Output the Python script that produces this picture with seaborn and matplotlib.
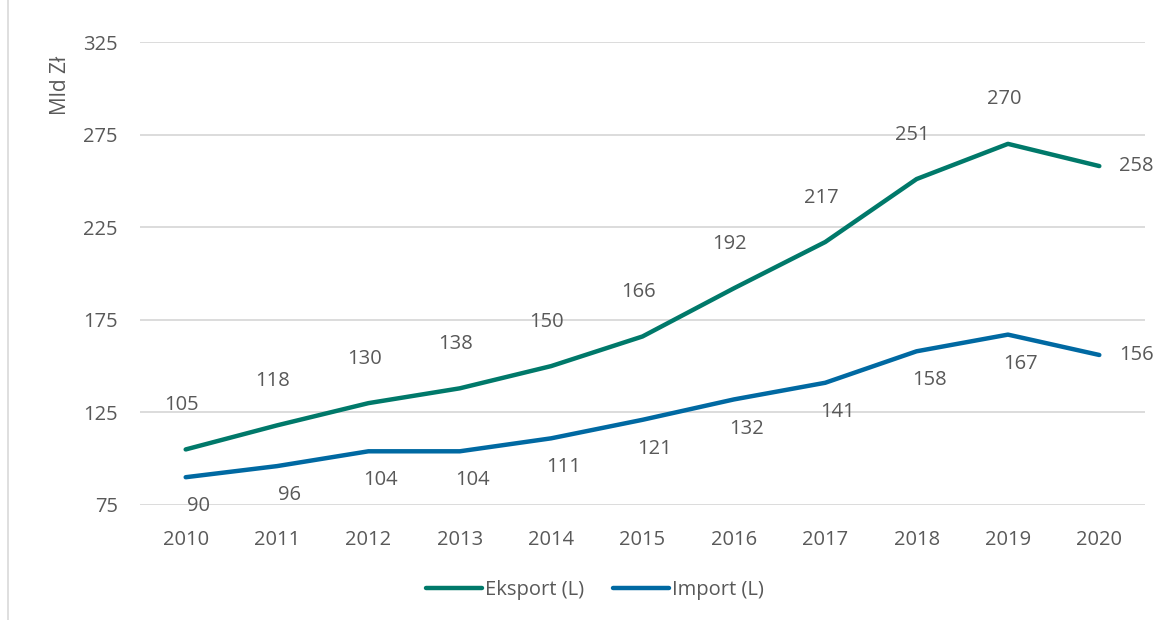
import matplotlib
matplotlib.use("Agg")
import matplotlib.pyplot as plt
import seaborn as sns
import pandas as pd
from matplotlib.lines import Line2D

years = ["2010", "2011", "2012", "2013", "2014", "2015", "2016", "2017", "2018", "2019", "2020"]
eksport = [105, 118, 130, 138, 150, 166, 192, 217, 251, 270, 258]
import_ = [90, 96, 104, 104, 111, 121, 132, 141, 158, 167, 156]
series_names = ["Eksport (L)", "Import (L)"]
y_ticks = [75, 125, 175, 225, 275, 325]
y_label = "Mld Zł"

sns.set_theme(style="white")
plt.rcParams["font.family"] = ["Open Sans", "DejaVu Sans"]
text_color = "#595959"
fs = 14.5
colors = {"Eksport (L)": "#00796A", "Import (L)": "#0069A2"}

df = pd.DataFrame({
    "idx": list(range(len(years))) * 2,
    "value": eksport + import_,
    "series": [series_names[0]] * len(years) + [series_names[1]] * len(years),
})

fig = plt.figure(figsize=(11.65, 6.2), dpi=100)
ax = fig.add_axes([140 / 1165, 1 - 505 / 620, 1005 / 1165, 463 / 620])

sns.lineplot(data=df, x="idx", y="value", hue="series", palette=colors,
             linewidth=3.2, ax=ax, legend=False, solid_capstyle="round")

ax.set_xlim(-0.5, len(years) - 0.5)
ax.set_ylim(y_ticks[0], y_ticks[-1])
ax.set_yticks(y_ticks)
ax.set_xticks(range(len(years)))
ax.set_xticklabels(years)
ax.grid(axis="y", color="#D9D9D9", linewidth=1.3)
ax.grid(axis="x", visible=False)
for s in ax.spines.values():
    s.set_visible(False)
ax.tick_params(axis="both", length=0, labelsize=fs, labelcolor=text_color)
ax.tick_params(axis="x", pad=18)
ax.tick_params(axis="y", pad=16)
ax.set_xlabel("")
ax.set_ylabel("")

n = len(years)
for i, v in enumerate(eksport):
    if i == n - 1:
        ax.annotate(str(v), (i, v), xytext=(14, 0), textcoords="offset points",
                    ha="left", va="center", fontsize=fs, color=text_color)
    else:
        ax.annotate(str(v), (i, v), xytext=(-3, 32), textcoords="offset points",
                    ha="center", va="center", fontsize=fs, color=text_color)
for i, v in enumerate(import_):
    if i == n - 1:
        ax.annotate(str(v), (i, v), xytext=(14, 0), textcoords="offset points",
                    ha="left", va="center", fontsize=fs, color=text_color)
    else:
        ax.annotate(str(v), (i, v), xytext=(9, -21), textcoords="offset points",
                    ha="center", va="center", fontsize=fs, color=text_color)

fig.text(60 / 1165, 1 - 85 / 620, y_label, rotation=90, ha="center", va="center",
         fontsize=15, color=text_color)

handles = [Line2D([0], [0], color=colors[s], linewidth=3.2, solid_capstyle="round") for s in series_names]
leg = fig.legend(handles, series_names, loc="center", bbox_to_anchor=(595 / 1165, 1 - 590 / 620),
                 ncol=2, frameon=False, fontsize=fs, handlelength=2.8, handletextpad=0.15,
                 columnspacing=1.4)
for t in leg.get_texts():
    t.set_color(text_color)

fig.add_artist(Line2D([8 / 1165, 8 / 1165], [0, 1], transform=fig.transFigure,
                      color="#D9D9D9", linewidth=1.2))

fig.savefig("out.png", dpi=100, facecolor="white")
